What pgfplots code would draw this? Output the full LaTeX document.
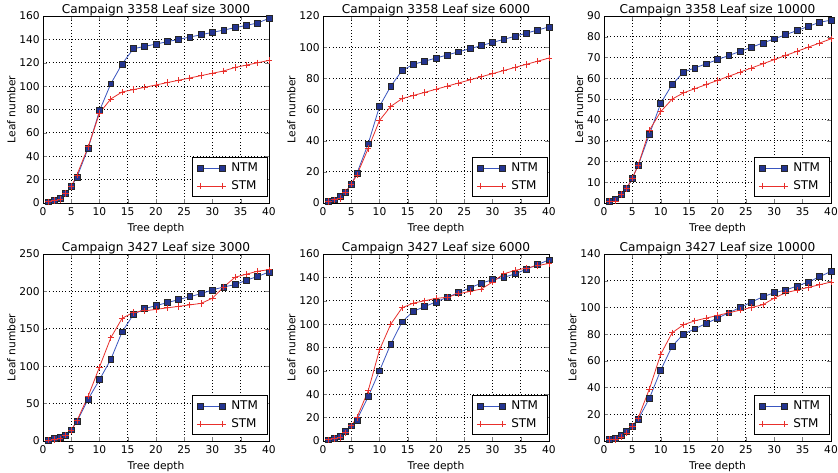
\documentclass[border=0pt]{standalone}
\usepackage{fontspec}
\setmainfont{DejaVu Sans}
\usepackage{pgfplots}
\pgfplotsset{compat=1.18}
\definecolor{ntmline}{HTML}{3A56C0}
\definecolor{ntmfill}{HTML}{233490}
\definecolor{stm}{HTML}{E8302C}
\pgfplotsset{
  sub/.style={
    scale only axis, width=169.5pt, height=140.25pt,
    xmin=0, xmax=40, ymin=0, xtick={0,5,...,40},
    grid=major, grid style={dotted, black, line width=0.6pt},
    tick align=inside, xtick pos=both, ytick pos=both,
    major tick length=3pt,
    axis line style={line width=0.6pt},
    /pgf/number format/assume math mode=true,
    tick label style={font=\fontsize{8}{9}\selectfont},
    xticklabel style={yshift=0pt},
    yticklabel style={xshift=1pt},
    label style={font=\fontsize{8}{9}\selectfont},
    xlabel={Tree depth}, ylabel={Leaf number},
    xlabel style={yshift=1pt}, ylabel style={yshift=-4pt},
    title style={font=\fontsize{9.1}{11}\selectfont, at={(0.5,1)}, anchor=base, yshift=-4pt},
    legend style={at={(rel axis cs:0.995,0.03)}, anchor=south east, draw=black, line width=0.9pt,
      font=\fontsize{9}{11}\selectfont, cells={anchor=west}, row sep=1pt, inner xsep=3pt, inner ysep=2pt,
      nodes={inner xsep=4pt}},
    legend image code/.code={\draw[##1] plot coordinates {(0cm,0cm) (0.6cm,0cm)};},
  },
  ntm/.style={color=ntmline, line width=0.6pt, mark=square*, mark size=2.2pt,
    mark options={fill=ntmfill, draw=black!85, line width=0.5pt}},
  stm/.style={color=stm, line width=0.6pt, mark=+, mark size=2.4pt, mark options={line width=0.6pt}},
}
\begin{document}
\begin{tikzpicture}
\path[use as bounding box] (0,0) rectangle (628.5pt,-354.75pt);
% Plot 1
\begin{axis}[sub, at={(32.25pt,-152.25pt)}, anchor=south west, ymax=160, ytick={0,20,...,160},
  title={Campaign 3358 Leaf size 3000}]
\addplot[ntm] coordinates {(1,1)(2,2)(3,4)(4,8)(5,14)(6,22)(8,47)(10,79)(12,102)(14,119)(16,132)(18,134)(20,136)(22,138)(24,140)(26,142)(28,144)(30,146)(32,148)(34,150)(36,152)(38,154)(40,158)};
\addlegendentry{NTM}
\addplot[stm] coordinates {(1,1)(2,2)(3,3)(4,8)(5,14)(6,24)(8,48)(10,77)(12,89)(14,95)(16,97)(18,99)(20,101)(22,103)(24,105)(26,107)(28,109)(30,111)(32,113)(34,116)(36,118)(38,120)(40,122)};
\addlegendentry{STM}
\end{axis}
% Plot 2
\begin{axis}[sub, at={(242.25pt,-152.25pt)}, anchor=south west, ymax=120, ytick={0,20,...,120},
  title={Campaign 3358 Leaf size 6000}]
\addplot[ntm] coordinates {(1,1)(2,2)(3,4)(4,7)(5,12)(6,19)(8,38)(10,62)(12,75)(14,85)(16,89)(18,91)(20,93)(22,95)(24,97)(26,99)(28,101)(30,103)(32,105)(34,107)(36,109)(38,111)(40,113)};
\addlegendentry{NTM}
\addplot[stm] coordinates {(1,1)(2,2)(3,3)(4,7)(5,12)(6,18)(8,35)(10,53)(12,62)(14,67)(16,69)(18,71)(20,73)(22,75)(24,77)(26,79)(28,81)(30,83)(32,85)(34,87)(36,89)(38,91)(40,93)};
\addlegendentry{STM}
\end{axis}
% Plot 3
\begin{axis}[sub, width=170.25pt, at={(453pt,-152.25pt)}, anchor=south west, ymax=90, ytick={0,10,...,90},
  title={Campaign 3358 Leaf size 10000}]
\addplot[ntm] coordinates {(1,1)(2,2)(3,4)(4,7)(5,12)(6,18)(8,33)(10,48)(12,57)(14,63)(16,65)(18,67)(20,69)(22,71)(24,73)(26,75)(28,77)(30,79)(32,81)(34,83)(36,85)(38,87)(40,88)};
\addlegendentry{NTM}
\addplot[stm] coordinates {(1,1)(2,1)(3,4)(4,7)(5,12)(6,18)(8,35)(10,44)(12,50)(14,53)(16,55)(18,57)(20,59)(22,61)(24,63)(26,65)(28,67)(30,69)(32,71)(34,73)(36,75)(38,77)(40,79)};
\addlegendentry{STM}
\end{axis}
% Plot 4
\begin{axis}[sub, at={(32.25pt,-330.75pt)}, anchor=south west, ymax=250, ytick={0,50,...,250},
  title={Campaign 3427 Leaf size 3000}]
\addplot[ntm] coordinates {(1,1)(2,3)(3,5)(4,8)(5,15)(6,26)(8,56)(10,82)(12,109)(14,146)(16,169)(18,177)(20,181)(22,185)(24,189)(26,193)(28,197)(30,202)(32,206)(34,209)(36,215)(38,220)(40,226)};
\addlegendentry{NTM}
\addplot[stm] coordinates {(1,1)(2,2)(3,3)(4,8)(5,14)(6,27)(8,60)(10,99)(12,138)(14,164)(16,172)(18,174)(20,176)(22,178)(24,180)(26,182)(28,184)(30,191)(32,206)(34,219)(36,223)(38,227)(40,229)};
\addlegendentry{STM}
\end{axis}
% Plot 5
\begin{axis}[sub, at={(242.25pt,-330.75pt)}, anchor=south west, ymax=160, ytick={0,20,...,160},
  title={Campaign 3427 Leaf size 6000}]
\addplot[ntm] coordinates {(1,1)(2,2)(3,4)(4,8)(5,13)(6,18)(8,38)(10,60)(12,83)(14,102)(16,111)(18,115)(20,119)(22,123)(24,127)(26,131)(28,135)(30,138)(32,140)(34,143)(36,147)(38,151)(40,155)};
\addlegendentry{NTM}
\addplot[stm] coordinates {(1,1)(2,2)(3,3)(4,7)(5,13)(6,20)(8,43)(10,78)(12,100)(14,114)(16,118)(18,120)(20,122)(22,123)(24,126)(26,128)(28,130)(30,136)(32,143)(34,146)(36,148)(38,150)(40,152)};
\addlegendentry{STM}
\end{axis}
% Plot 6
\begin{axis}[sub, width=170.25pt, at={(453pt,-330.75pt)}, anchor=south west, ymax=140, ytick={0,20,...,140},
  title={Campaign 3427 Leaf size 10000}]
\addplot[ntm] coordinates {(1,1)(2,2)(3,4)(4,7)(5,11)(6,16)(8,32)(10,53)(12,71)(14,80)(16,84)(18,88)(20,92)(22,96)(24,100)(26,104)(28,108)(30,111)(32,113)(34,116)(36,119)(38,123)(40,127)};
\addlegendentry{NTM}
\addplot[stm] coordinates {(1,1)(2,1)(3,3)(4,6)(5,11)(6,17)(8,39)(10,65)(12,81)(14,87)(16,90)(18,92)(20,94)(22,96)(24,98)(26,100)(28,102)(30,107)(32,111)(34,113)(36,115)(38,117)(40,119)};
\addlegendentry{STM}
\end{axis}
\end{tikzpicture}
\end{document}
